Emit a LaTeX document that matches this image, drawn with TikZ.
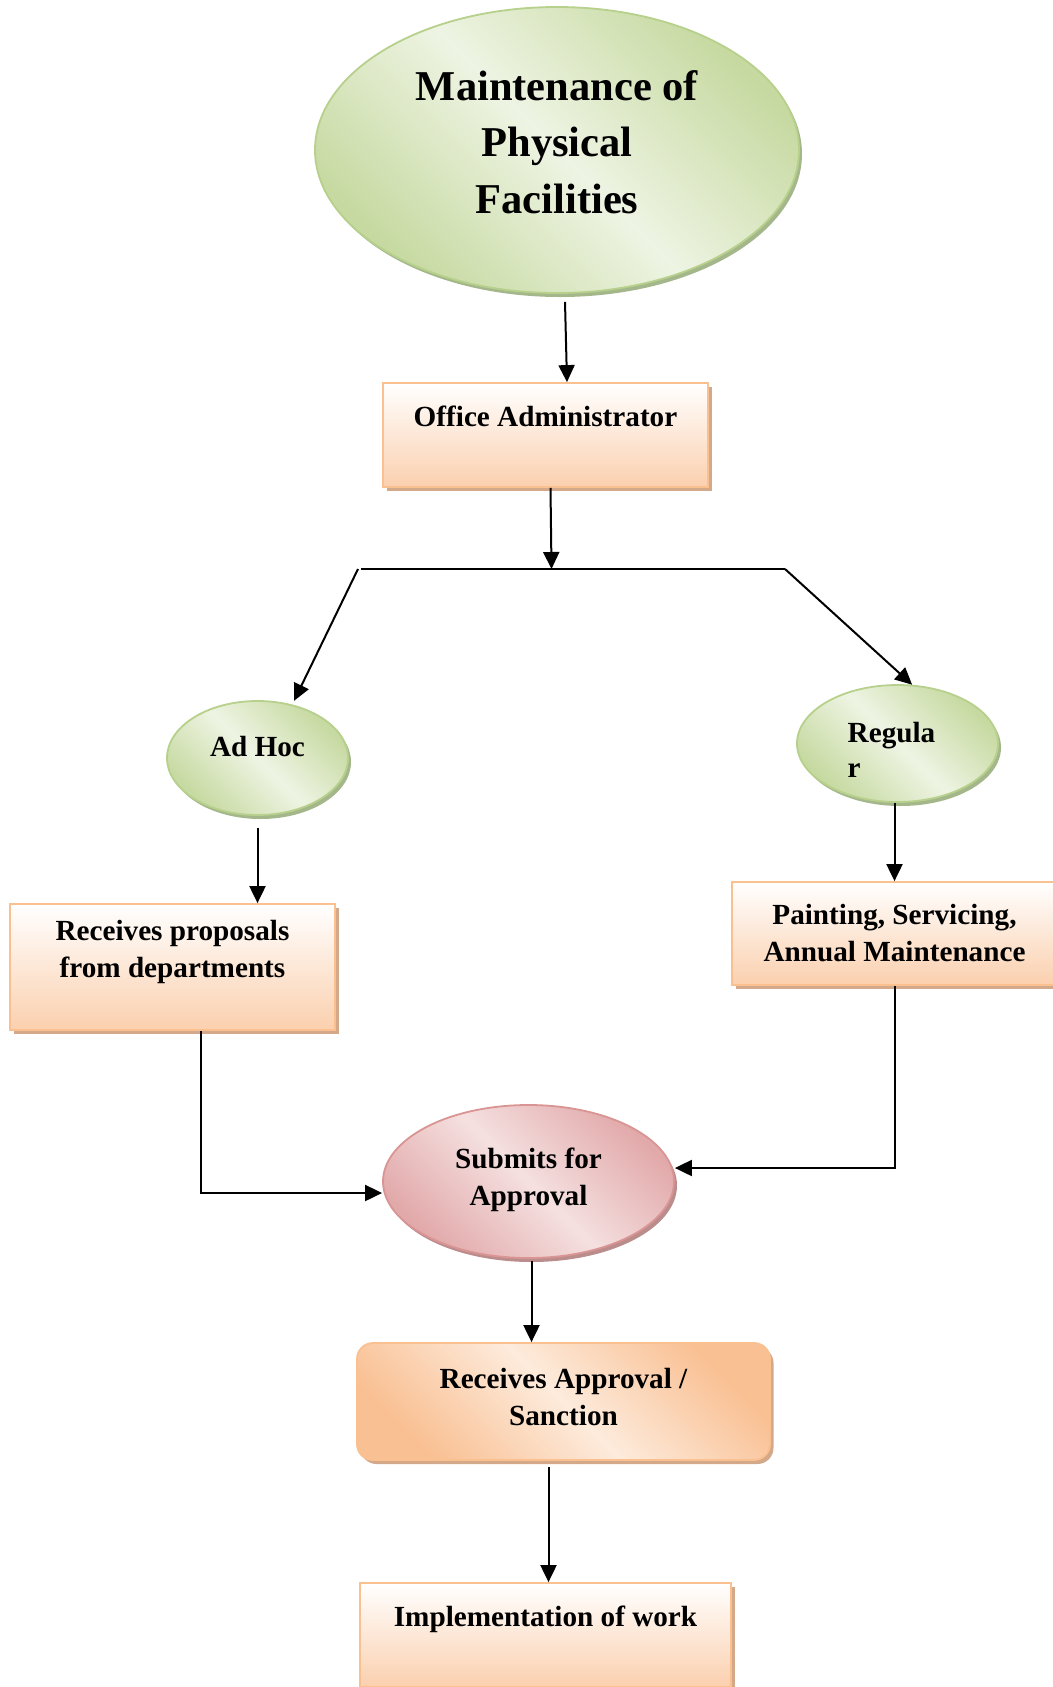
\documentclass[tikz,border=0pt]{standalone}
\usepackage{fontspec}
\setmainfont{Liberation Serif}
\usepackage{xcolor}
\usepackage{tikz}
\usetikzlibrary{shapes.geometric, arrows.meta, positioning, shadows}

\definecolor{greendark}{HTML}{C6D9A0}
\definecolor{greenlight}{HTML}{EEF4E3}
\definecolor{greenline}{HTML}{B7D08C}
\definecolor{greenshadow}{HTML}{A4B78B}
\definecolor{pinkdark}{HTML}{E2A9AA}
\definecolor{pinklight}{HTML}{F5E0E0}
\definecolor{pinkline}{HTML}{D99594}
\definecolor{pinkshadow}{HTML}{BB8C8C}
\definecolor{orangedark}{HTML}{F9C093}
\definecolor{orangelight}{HTML}{FDEBDC}
\definecolor{orangeline}{HTML}{FAC090}
\definecolor{orangeshadow}{HTML}{D4A98A}

\begin{document}
\begin{tikzpicture}[
        x=0.5pt, y=-0.5pt,
        txt/.style={font=\fontsize{14.6}{18.5}\selectfont\bfseries, align=center},
        oval/.style={ellipse, inner sep=0pt, line width=0.9pt, txt},
        greenoval/.style={oval, draw=greenline, top color=greendark, bottom color=greendark, middle color=greenlight, shading angle=-45, drop shadow={shadow xshift=1.5pt, shadow yshift=-2pt, fill=greenshadow, opacity=1}},
        pinkoval/.style={oval, draw=pinkline, top color=pinkdark, bottom color=pinkdark, middle color=pinklight, shading angle=-45, drop shadow={shadow xshift=1.5pt, shadow yshift=-2pt, fill=pinkshadow, opacity=1}},
        box/.style={txt, rectangle, draw=orangeline, line width=0.9pt, top color=white, bottom color=orangedark!75, drop shadow={shadow xshift=1.75pt, shadow yshift=-2pt, fill=orangeshadow, opacity=1}},
        roundbox/.style={txt, rectangle, rounded corners=8pt, draw=orangeline, line width=0.9pt, top color=orangedark, bottom color=orangedark, middle color=orangelight, shading angle=-45, drop shadow={shadow xshift=1.75pt, shadow yshift=-2pt, fill=orangeshadow, opacity=1}},
        conn/.style={-{Triangle[length=8.5pt, width=8pt]}, line width=1pt},
        plain/.style={line width=1pt}
    ]
    \fill[white] (0,0) rectangle (1053,1687);
    \useasboundingbox (0,0) rectangle (1053,1687);
    \clip (0,0) rectangle (1053,1687);

    \node[greenoval, font=\fontsize{21.25}{28.25}\selectfont\bfseries, minimum width=242pt, minimum height=143pt] (maint) at (557,150) {Maintenance of\\Physical\\Facilities\\[-20pt]\mbox{}};
    \node[box, minimum width=162.5pt, minimum height=52pt] (office) at (545.5,435) {Office Administrator\\ \mbox{}};

    \node[greenoval, minimum width=90.5pt, minimum height=57pt] (adhoc) at (257.5,758) {Ad Hoc\\[-7pt]\mbox{}};
    \node[greenoval, align=left, minimum width=100.5pt, minimum height=58.5pt] (regular) at (897.5,743.5) {\rule{0pt}{16pt}Regula\hspace*{6pt}\\[-1pt]r};

    \node[box, minimum width=162.5pt, minimum height=63pt] (proposals) at (172.5,967) {Receives proposals\\from departments\\ \mbox{}};
    \node[box, minimum width=162.5pt, minimum height=51.5pt] (painting) at (894.5,933.5) {Painting, Servicing,\\Annual Maintenance};

    \node[pinkoval, minimum width=145.5pt, minimum height=76.5pt] (submit) at (528.5,1181.5) {Submits for\\Approval\\[-14pt]\mbox{}};
    \node[roundbox, minimum width=206.5pt, minimum height=58.5pt] (approval) at (563.5,1401.5) {Receives Approval /\\Sanction\\[-14pt]\mbox{}};
    \node[box, minimum width=185.5pt, minimum height=52pt] (work) at (545.5,1635) {Implementation of work\\ \mbox{}};

    % split below the administrator
    \coordinate (split) at (551.5,569);
    \coordinate (splitL) at (361,569);
    \coordinate (splitR) at (785,569);

    \draw[conn] ([xshift=4pt, yshift=-4pt]maint.south) -- ([xshift=10.75pt]office.north);
    \draw[conn] ([xshift=2.5pt]office.south) -- (split);
    \draw[plain] (splitL) -- (splitR);
    \draw[conn, shorten >=2pt] ([xshift=-1.5pt]splitL) -- (adhoc.57);
    \draw[conn] (splitR) -- (regular.76);

    \draw[conn] ([yshift=-6pt]adhoc.south) -- (adhoc.south |- proposals.north);
    \draw[conn] (painting.north |- regular.south) -- (painting.north);

    \draw[conn] ([xshift=14.25pt]proposals.south) |- ([yshift=-5.75pt]submit.west);
    \draw[conn] (painting.south) |- ([yshift=6.75pt]submit.east);

    \draw[conn] ([xshift=1.5pt, yshift=-1pt]submit.south) -- ([xshift=1.5pt]submit.south |- approval.north);
    \draw[conn] ([xshift=1.5pt, yshift=-3pt]work.north |- approval.south) -- ([xshift=1.5pt]work.north);
\end{tikzpicture}
\end{document}
